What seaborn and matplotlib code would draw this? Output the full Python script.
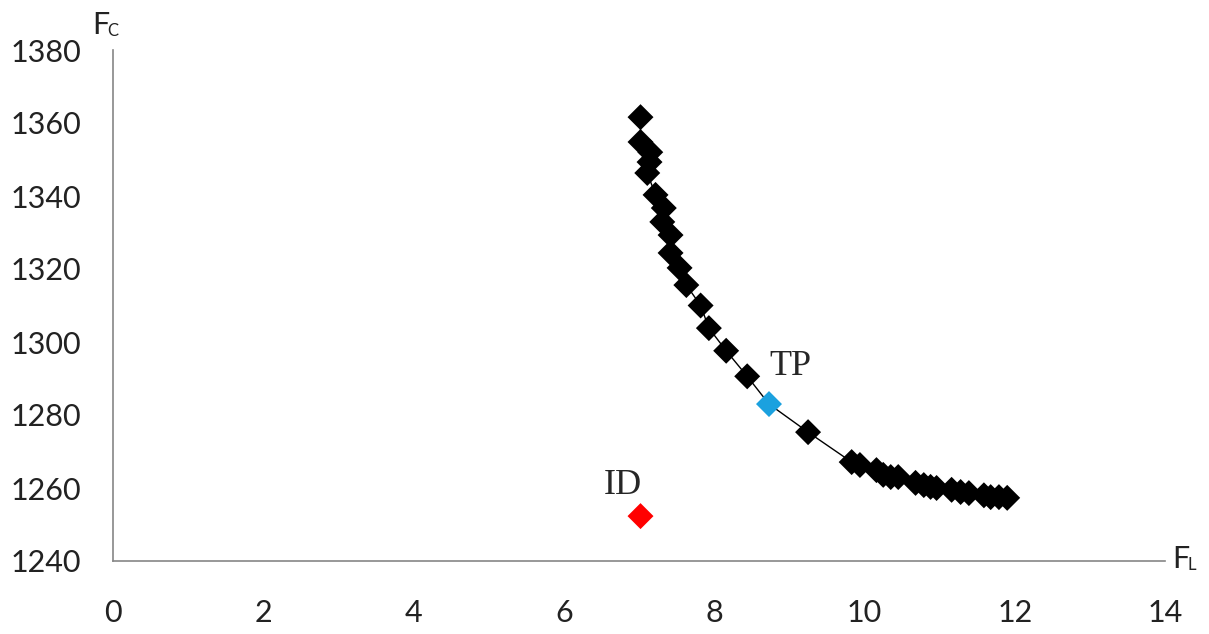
import numpy as np
import pandas as pd
import seaborn as sns
import matplotlib
matplotlib.use("Agg")
import matplotlib.pyplot as plt

# Pareto front points (black diamonds)
front_fl = [7.02, 7.02, 7.15, 7.14, 7.11, 7.22, 7.33, 7.31, 7.42, 7.42, 7.54, 7.63,
            7.82, 7.93, 8.16, 8.44, 9.25, 9.83, 9.94, 10.16, 10.25, 10.35, 10.45,
            10.68, 10.79, 10.88, 10.96, 11.16, 11.28, 11.39, 11.59, 11.68, 11.79, 11.9]
front_fc = [1361.6, 1354.8, 1352.0, 1349.3, 1346.3, 1340.3, 1336.7, 1332.9, 1329.3, 1324.4,
            1320.3, 1315.6, 1310.0, 1303.8, 1297.6, 1290.6, 1275.3, 1267.1, 1266.3, 1264.9,
            1263.6, 1263.0, 1263.0, 1261.4, 1260.8, 1260.3, 1260.0, 1259.5, 1258.9, 1258.6,
            1258.0, 1257.5, 1257.5, 1257.3]
# Special points
tp_fl, tp_fc = 8.73, 1283.0
id_fl, id_fc = 7.02, 1252.3
x_ticks = [0, 2, 4, 6, 8, 10, 12, 14]
y_ticks = [1240, 1260, 1280, 1300, 1320, 1340, 1360, 1380]

sns.set_theme(style="white")
plt.rcParams['font.family'] = ['Lato', 'DejaVu Sans']

fig = plt.figure(figsize=(12.09, 6.34), dpi=100)
ax = fig.add_axes([113 / 1209, 1 - 561 / 634, 1052 / 1209, 511 / 634])

line_df = pd.DataFrame({"FL": front_fl + [tp_fl], "FC": front_fc + [tp_fc]})
line_df = line_df.sort_values("FC", ascending=False)
sns.lineplot(data=line_df, x="FL", y="FC", sort=False, estimator=None,
             color="black", lw=1, ax=ax, zorder=2)
sns.scatterplot(x=front_fl, y=front_fc, marker="D", s=175, color="black",
                edgecolor="none", ax=ax, zorder=3)
sns.scatterplot(x=[tp_fl], y=[tp_fc], marker="D", s=175, color="#1BA1DF",
                edgecolor="none", ax=ax, zorder=4)
sns.scatterplot(x=[id_fl], y=[id_fc], marker="D", s=175, color="#FF0000",
                edgecolor="none", ax=ax, zorder=4)

ax.text(6.78, 1260.8, "ID", fontsize=26, family=["Liberation Serif"],
        ha="center", va="center")
ax.text(9.01, 1293.2, "TP", fontsize=26, family=["Liberation Serif"],
        ha="center", va="center")

ax.set_xlim(0, 14)
ax.set_ylim(1240, 1380)
ax.set_xticks(x_ticks)
ax.set_yticks(y_ticks)
ax.tick_params(axis="both", length=0, labelsize=22, colors="#222222")
ax.tick_params(axis="y", pad=23)
ax.tick_params(axis="x", pad=27)
ax.set_xlabel("")
ax.set_ylabel("")
for s in ["top", "right"]:
    ax.spines[s].set_visible(False)
for s in ["left", "bottom"]:
    ax.spines[s].set_color("#868686")
    ax.spines[s].set_linewidth(1.2)

# Axis names
ax.annotate("F", xy=(0, 1.0), xycoords="axes fraction", xytext=(-15, 8),
            textcoords="offset points", fontsize=22, color="#222222",
            ha="left", va="bottom")
ax.annotate("C", xy=(0, 1.0), xycoords="axes fraction", xytext=(-4, 8),
            textcoords="offset points", fontsize=12, color="#222222",
            ha="left", va="bottom")
ax.annotate("F", xy=(1.0, 0), xycoords="axes fraction", xytext=(5, -9),
            textcoords="offset points", fontsize=22, color="#222222",
            ha="left", va="bottom")
ax.annotate("L", xy=(1.0, 0), xycoords="axes fraction", xytext=(16, -9),
            textcoords="offset points", fontsize=12, color="#222222",
            ha="left", va="bottom")

fig.savefig("out.png", dpi=100, facecolor="white")
